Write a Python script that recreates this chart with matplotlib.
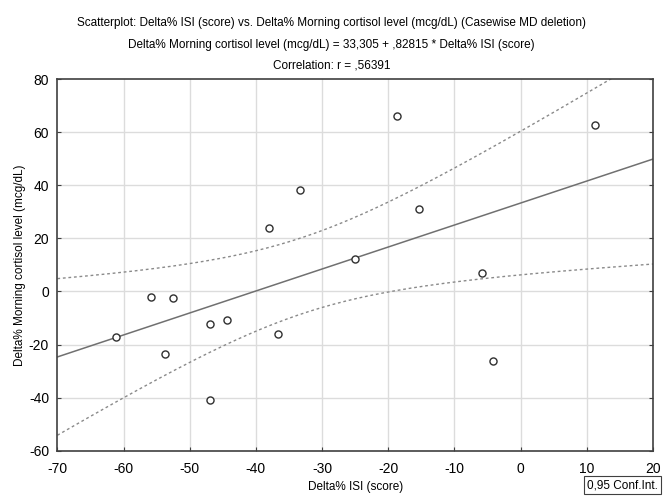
import numpy as np
import matplotlib
matplotlib.use("Agg")
import matplotlib.pyplot as plt

plt.rcParams["font.family"] = ["Liberation Sans", "DejaVu Sans"]
plt.rcParams["axes.unicode_minus"] = False

# ---- datos ----
isi = [-61.1, -55.9, -52.6, -53.8, -46.9, -44.4, -46.9, -36.7,
       -38.0, -33.3, -25.0, -18.7, -15.3, -5.8, -4.2, 11.2]
cortisol = [-17.0, -1.9, -2.5, -23.6, -12.4, -10.8, -40.9, -15.9,
            23.8, 38.1, 12.2, 66.0, 31.1, 7.1, -26.3, 62.5]
INTERCEPT = 33.305
SLOPE = 0.82815
T_CRIT = 2.1448          # t(0.975, df=14)
XTICKS = [-70, -60, -50, -40, -30, -20, -10, 0, 10, 20]
YTICKS = [-60, -40, -20, 0, 20, 40, 60, 80]

x = np.array(isi)
y = np.array(cortisol)
n = len(x)

# recta de regresion + banda de confianza 95% de la media
xs = np.linspace(-70, 20, 200)
fit = INTERCEPT + SLOPE * xs
resid = y - (INTERCEPT + SLOPE * x)
s = np.sqrt(np.sum(resid ** 2) / (n - 2))
sxx = np.sum((x - x.mean()) ** 2)
half = T_CRIT * s * np.sqrt(1.0 / n + (xs - x.mean()) ** 2 / sxx)

fig = plt.figure(figsize=(6.63, 4.97), dpi=100)
ax = fig.add_axes([0.0865, 0.093, 0.8985, 0.748])

grid_c = "#dcdcdc"
for v in XTICKS[1:-1]:
    ax.axvline(v, color=grid_c, lw=1, zorder=0)
for v in YTICKS[1:-1]:
    ax.axhline(v, color=grid_c, lw=1, zorder=0)

ax.plot(xs, fit, color="#707070", lw=1.1, zorder=2)
ax.plot(xs, fit + half, color="#8a8a8a", lw=1, ls=(0, (2, 2)), zorder=2)
ax.plot(xs, fit - half, color="#8a8a8a", lw=1, ls=(0, (2, 2)), zorder=2)
ax.scatter(x, y, s=26, facecolors="white", edgecolors="#303030", linewidths=1, zorder=3)

ax.set_xlim(-70, 20)
ax.set_ylim(-60, 80)
ax.set_xticks(XTICKS)
ax.set_yticks(YTICKS)
ax.tick_params(labelsize=10, length=3, width=0.8, color="#404040",
               top=False, right=True, direction="in")
ax.tick_params(axis="x", pad=8)
ax.tick_params(axis="y", pad=6)
for sp in ax.spines.values():
    sp.set_color("#404040")
    sp.set_linewidth(1.2)

ax.set_xlabel("Delta% ISI (score)", fontsize=8.5, labelpad=4)
ax.set_ylabel("Delta% Morning cortisol level (mcg/dL)", fontsize=8.5, labelpad=2)

fig.text(0.5, 0.953, "Scatterplot: Delta% ISI (score) vs. Delta% Morning cortisol level (mcg/dL) (Casewise MD deletion)",
         ha="center", va="center", fontsize=8.5)
fig.text(0.5, 0.91, "Delta% Morning cortisol level (mcg/dL) = 33,305 + ,82815 * Delta% ISI (score)",
         ha="center", va="center", fontsize=8.5)
fig.text(0.5, 0.868, "Correlation: r = ,56391", ha="center", va="center", fontsize=8.5)

fig.text(0.885, 0.024, "0,95 Conf.Int.", ha="left", va="center", fontsize=8.5,
         bbox=dict(boxstyle="square,pad=0.25", fc="white", ec="#404040", lw=0.8))

fig.savefig("out.png", dpi=100)
